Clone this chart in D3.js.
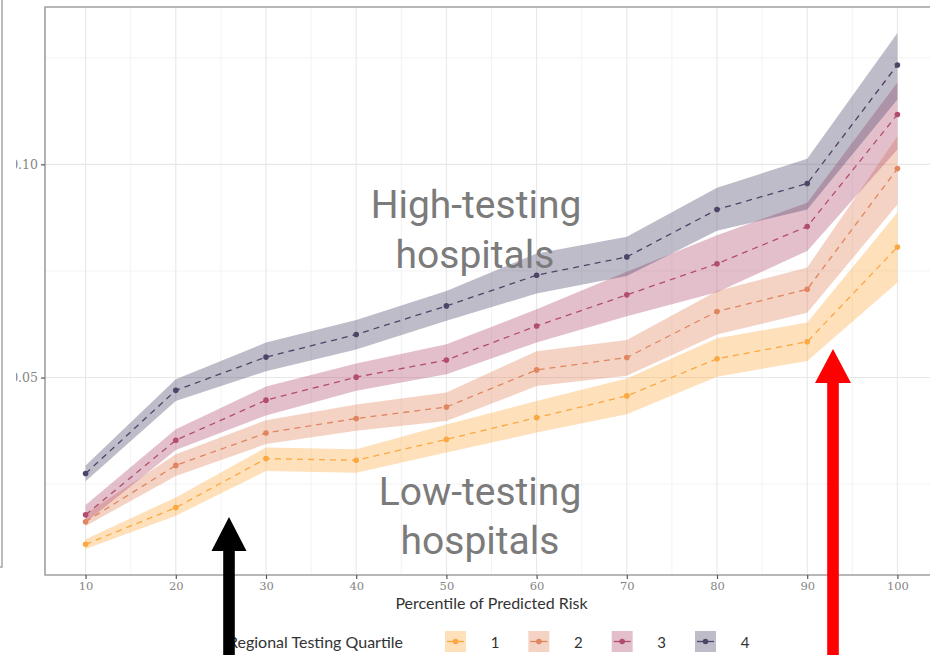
<!DOCTYPE html>
<html>
<head>
<meta charset="utf-8">
<script src="https://cdn.jsdelivr.net/npm/d3@7/dist/d3.min.js"></script>
<style>
  html, body { margin: 0; padding: 0; background: #fff; }
  svg { display: block; }
</style>
</head>
<body>
<svg id="chart" width="930" height="655"></svg>
<script>
// Percentile of predicted risk (x) and outcome rate per regional testing quartile
const percentiles = [10, 20, 30, 40, 50, 60, 70, 80, 90, 100];

const q1Mean = [0.0109, 0.0195, 0.0310, 0.0306, 0.0355, 0.0406, 0.0457, 0.0544, 0.0584, 0.0806];
const q1Low  = [0.0098, 0.0176, 0.0281, 0.0277, 0.0324, 0.0371, 0.0414, 0.0502, 0.0539, 0.0723];
const q1High = [0.0121, 0.0219, 0.0336, 0.0332, 0.0390, 0.0445, 0.0498, 0.0592, 0.0629, 0.0887];

const q2Mean = [0.0162, 0.0294, 0.0370, 0.0404, 0.0431, 0.0518, 0.0547, 0.0655, 0.0707, 0.0990];
const q2Low  = [0.0152, 0.0269, 0.0344, 0.0375, 0.0398, 0.0480, 0.0504, 0.0601, 0.0652, 0.0906];
const q2High = [0.0180, 0.0320, 0.0400, 0.0437, 0.0465, 0.0562, 0.0588, 0.0703, 0.0758, 0.1066];

const q3Mean = [0.0178, 0.0353, 0.0447, 0.0501, 0.0541, 0.0621, 0.0694, 0.0767, 0.0854, 0.1117];
const q3Low  = [0.0160, 0.0330, 0.0411, 0.0469, 0.0508, 0.0582, 0.0644, 0.0700, 0.0797, 0.1035];
const q3High = [0.0201, 0.0379, 0.0479, 0.0533, 0.0578, 0.0660, 0.0748, 0.0834, 0.0910, 0.1192];

const q4Mean = [0.0275, 0.0470, 0.0548, 0.0601, 0.0668, 0.0740, 0.0783, 0.0894, 0.0955, 0.1233];
const q4Low  = [0.0257, 0.0445, 0.0515, 0.0566, 0.0633, 0.0697, 0.0738, 0.0844, 0.0894, 0.1152];
const q4High = [0.0294, 0.0496, 0.0582, 0.0635, 0.0703, 0.0791, 0.0830, 0.0945, 0.1013, 0.1308];

const quartileLabels = ["1", "2", "3", "4"];
const quartileColors = ["#FBA840", "#E0855F", "#B24D6F", "#4E4468"];

const xTicks = [10, 20, 30, 40, 50, 60, 70, 80, 90, 100];
const xMinorTicks = [15, 25, 35, 45, 55, 65, 75, 85, 95];
const yTicks = [0.05, 0.10];
const yMinorTicks = [0.025, 0.075, 0.125];

const xTitle = "Percentile of Predicted Risk";
const legendTitle = "Regional Testing Quartile";
const highNote = ["High-testing", "hospitals"];
const lowNote = ["Low-testing", "hospitals"];

const series = [
  { mean: q1Mean, low: q1Low, high: q1High },
  { mean: q2Mean, low: q2Low, high: q2High },
  { mean: q3Mean, low: q3Low, high: q3High },
  { mean: q4Mean, low: q4Low, high: q4High }
].map((s, i) => ({
  label: quartileLabels[i],
  color: quartileColors[i],
  values: percentiles.map((p, j) => ({ x: p, y: s.mean[j], lo: s.low[j], hi: s.high[j] }))
}));

const svg = d3.select("#chart");

// Panel geometry (the right edge runs past the window)
const panel = { left: 45, top: 7, right: 938, bottom: 575 };

const x = d3.scaleLinear().domain([5.5, 104.5]).range([panel.left, panel.right]);
const y = d3.scaleLinear().domain([0.0037, 0.1369]).range([panel.bottom, panel.top]);

// Frame edge at the far left
svg.append("path")
  .attr("d", "M2,0 V567 H0")
  .attr("fill", "none")
  .attr("stroke", "#a6a6a6")
  .attr("stroke-width", 1.5);

// Grid
const grid = svg.append("g");
grid.selectAll("line.xminor").data(xMinorTicks).join("line")
  .attr("x1", d => x(d)).attr("x2", d => x(d))
  .attr("y1", panel.top).attr("y2", panel.bottom)
  .attr("stroke", "#f0f0f0").attr("stroke-width", 0.8);
grid.selectAll("line.yminor").data(yMinorTicks).join("line")
  .attr("x1", panel.left).attr("x2", panel.right)
  .attr("y1", d => y(d)).attr("y2", d => y(d))
  .attr("stroke", "#f0f0f0").attr("stroke-width", 0.8);
grid.selectAll("line.xmajor").data(xTicks).join("line")
  .attr("x1", d => x(d)).attr("x2", d => x(d))
  .attr("y1", panel.top).attr("y2", panel.bottom)
  .attr("stroke", "#e8e8e8").attr("stroke-width", 1.1);
grid.selectAll("line.ymajor").data(yTicks).join("line")
  .attr("x1", panel.left).attr("x2", panel.right)
  .attr("y1", d => y(d)).attr("y2", d => y(d))
  .attr("stroke", "#e8e8e8").attr("stroke-width", 1.1);

// Confidence ribbons
const area = d3.area()
  .x(d => x(d.x))
  .y0(d => y(d.lo))
  .y1(d => y(d.hi));

svg.append("g").selectAll("path").data(series).join("path")
  .attr("d", d => area(d.values))
  .attr("fill", d => d.color)
  .attr("fill-opacity", 0.36);

// Dashed trend lines
const line = d3.line().x(d => x(d.x)).y(d => y(d.y));
svg.append("g").selectAll("path").data(series).join("path")
  .attr("d", d => line(d.values))
  .attr("fill", "none")
  .attr("stroke", d => d.color)
  .attr("stroke-width", 1.3)
  .attr("stroke-dasharray", "6,5");

// Points
svg.append("g").selectAll("g").data(series).join("g")
  .attr("fill", d => d.color)
  .selectAll("circle").data(d => d.values).join("circle")
  .attr("cx", d => x(d.x))
  .attr("cy", d => y(d.y))
  .attr("r", 2.8);

// Panel border
svg.append("path")
  .attr("d", `M${panel.right},${panel.top} H${panel.left} V${panel.bottom} H${panel.right}`)
  .attr("fill", "none")
  .attr("stroke", "#a0a0a0")
  .attr("stroke-width", 1.6);

// Axes
const tickFont = "'DejaVu Serif', 'Liberation Serif', serif";

const xAxis = svg.append("g")
  .attr("transform", `translate(0,${panel.bottom})`)
  .call(d3.axisBottom(x).tickValues(xTicks).tickSize(4).tickPadding(3).tickFormat(d3.format("d")));
xAxis.select(".domain").remove();
xAxis.selectAll(".tick line").attr("stroke", "#555").attr("stroke-width", 1.2);
xAxis.selectAll(".tick text")
  .attr("fill", "#858585")
  .style("font-family", tickFont)
  .style("font-size", "11.5px");

// Y tick labels are cut at the window's left frame
svg.append("clipPath").attr("id", "yclip")
  .append("rect").attr("x", 16).attr("y", 0).attr("width", 40).attr("height", 655);

const yAxisWrap = svg.append("g").attr("clip-path", "url(#yclip)");
const yAxis = yAxisWrap.append("g")
  .attr("transform", `translate(${panel.left},0)`)
  .call(d3.axisLeft(y).tickValues(yTicks).tickSize(4).tickPadding(3).tickFormat(d3.format(".2f")));
yAxis.select(".domain").remove();
yAxis.selectAll(".tick line").attr("stroke", "#555").attr("stroke-width", 1.2);
yAxis.selectAll(".tick text")
  .attr("fill", "#858585")
  .style("font-family", tickFont)
  .style("font-size", "12.5px");

// Axis title
svg.append("text")
  .attr("x", (panel.left + panel.right) / 2)
  .attr("y", 609)
  .attr("text-anchor", "middle")
  .attr("fill", "#333")
  .style("font-family", "Lato, 'Open Sans', sans-serif")
  .style("font-size", "16px")
  .text(xTitle);

// Legend
const legend = svg.append("g");
legend.append("text")
  .attr("x", 228).attr("y", 648)
  .attr("fill", "#333")
  .style("font-family", "Lato, 'Open Sans', sans-serif")
  .style("font-size", "16px")
  .text(legendTitle);

const keyX = d3.scalePoint().domain(quartileLabels).range([445, 695]);
const keys = legend.selectAll("g.key").data(series).join("g")
  .attr("transform", d => `translate(${keyX(d.label)},631)`);
keys.append("rect")
  .attr("width", 21).attr("height", 21)
  .attr("fill", d => d.color).attr("fill-opacity", 0.36);
keys.append("line")
  .attr("x1", 2).attr("x2", 19).attr("y1", 10.5).attr("y2", 10.5)
  .attr("stroke", d => d.color).attr("stroke-width", 1.3);
keys.append("circle")
  .attr("cx", 10.5).attr("cy", 10.5).attr("r", 2.8)
  .attr("fill", d => d.color);
keys.append("text")
  .attr("x", 50).attr("y", 16.5)
  .attr("text-anchor", "middle")
  .attr("fill", "#333")
  .style("font-family", "Lato, 'Open Sans', sans-serif")
  .style("font-size", "15px")
  .text(d => d.label);

// Annotations
const noteFont = "Roboto, 'Liberation Sans', sans-serif";
function note(lines, cx, baselines) {
  const t = svg.append("text")
    .attr("text-anchor", "middle")
    .attr("fill", "#7b7b7b")
    .style("font-family", noteFont)
    .style("font-size", "39px");
  lines.forEach((s, i) => {
    t.append("tspan").attr("x", cx[i]).attr("y", baselines[i]).text(s);
  });
}
note(highNote, [476, 475], [218, 268]);
note(lowNote, [480, 480], [505, 554]);

// Arrows
function arrow(cx, tipY, headBaseY, headHalf, shaftHalf, color) {
  const p = d3.path();
  p.moveTo(cx, tipY);
  p.lineTo(cx + headHalf, headBaseY);
  p.lineTo(cx + shaftHalf, headBaseY);
  p.lineTo(cx + shaftHalf, 660);
  p.lineTo(cx - shaftHalf, 660);
  p.lineTo(cx - shaftHalf, headBaseY);
  p.lineTo(cx - headHalf, headBaseY);
  p.closePath();
  svg.append("path").attr("d", p.toString()).attr("fill", color);
}
arrow(229, 517, 551, 17.5, 5.8, "#000000");
arrow(833, 349, 383, 18, 5.8, "#ff0000");
</script>
</body>
</html>
